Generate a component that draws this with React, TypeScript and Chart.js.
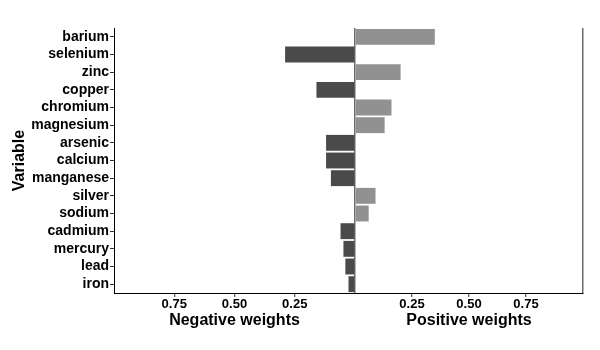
import React, { useEffect, useRef } from "react";
import { Chart, registerables } from "chart.js";

Chart.register(...registerables);

const categories = [
  "barium", "selenium", "zinc", "copper", "chromium", "magnesium", "arsenic",
  "calcium", "manganese", "silver", "sodium", "cadmium", "mercury", "lead", "iron",
];
const negativeWeights = [null, 0.29, null, 0.16, null, null, 0.12, 0.12, 0.10, null, null, 0.06, 0.048, 0.04, 0.027];
const positiveWeights = [0.35, null, 0.20, null, 0.16, 0.13, null, null, null, 0.09, 0.06, null, null, null, null];
const tickValues = [0.25, 0.5, 0.75];
const yTitle = "Variable";
const negTitle = "Negative weights";
const posTitle = "Positive weights";

const FONT = "'Liberation Sans', Arial, sans-serif";
const DARK = "#4a4a4a";
const LIGHT = "#919191";
const EDGE = "#6a6a6a";

const isTick = (v: number) => tickValues.some((t) => Math.abs(t - v) < 1e-9);
const fmt = (v: number) => (isTick(v) ? v.toFixed(2) : "");

export default function App() {
  const ref = useRef<HTMLCanvasElement>(null);
  useEffect(() => {
    document.body.style.margin = "0";
    const ctx = ref.current!;
    const xCommon = (title: string, weight: number, reverse: boolean, onArea: boolean) => ({
      type: "linear" as const,
      position: "bottom" as const,
      stack: "x",
      stackWeight: weight,
      min: 0,
      max: 1,
      reverse,
      afterFit: (s: any) => {
        s.height = 57;
      },
      border: { display: true, color: "#000", width: 1 },
      grid: {
        drawOnChartArea: onArea,
        drawTicks: true,
        tickLength: 4,
        lineWidth: 1.5,
        color: (c: any) => (onArea && (c.tick?.value === 0 || c.tick?.value === 1) ? EDGE : "rgba(0,0,0,0)"),
        tickColor: (c: any) => (c.tick && isTick(c.tick.value) ? "#333" : "rgba(0,0,0,0)"),
        tickWidth: 1,
      },
      ticks: {
        stepSize: 0.25,
        autoSkip: false,
        maxRotation: 0,
        padding: 0,
        color: "#000",
        font: { family: FONT, size: 13, weight: "bold" as const },
        callback: (v: any) => fmt(Number(v)),
      },
      title: {
        display: true,
        text: title,
        color: "#000",
        font: { family: FONT, size: 16, weight: "bold" as const },
        padding: { top: 0, bottom: 20 },
      },
    });
    const chart = new Chart(ctx, {
      type: "bar",
      data: {
        labels: categories,
        datasets: [
          {
            label: "Negative",
            data: negativeWeights as any,
            xAxisID: "xNeg",
            backgroundColor: DARK,
            grouped: false,
            barPercentage: 0.9,
            categoryPercentage: 1,
          },
          {
            label: "Positive",
            data: positiveWeights as any,
            xAxisID: "xPos",
            backgroundColor: LIGHT,
            grouped: false,
            barPercentage: 0.9,
            categoryPercentage: 1,
          },
        ],
      },
      options: {
        indexAxis: "y",
        responsive: false,
        animation: false,
        layout: { padding: { top: 28, right: 17, left: 0, bottom: 0 } },
        plugins: { legend: { display: false }, tooltip: { enabled: false } },
        scales: {
          y: {
            type: "category",
            position: "left",
            afterFit: (s: any) => {
              s.width = 114;
            },
            border: { display: true, color: "#000", width: 1 },
            grid: { offset: false, drawOnChartArea: false, drawTicks: true, tickLength: 4, tickColor: "#333" },
            ticks: {
              padding: 1,
              color: "#000",
              autoSkip: false,
              font: { family: FONT, size: 14, weight: "bold" },
            },
            title: {
              display: true,
              text: yTitle,
              color: "#000",
              font: { family: FONT, size: 16, weight: "bold" },
              padding: { top: 10, bottom: 0 },
            },
          },
          xNeg: xCommon(negTitle, 241, true, false),
          xPos: xCommon(posTitle, 228, false, true),
        } as any,
      },
    });
    return () => chart.destroy();
  }, []);
  return (
    <div style={{ width: 600, height: 350 }}>
      <canvas ref={ref} width={600} height={350} />
    </div>
  );
}
